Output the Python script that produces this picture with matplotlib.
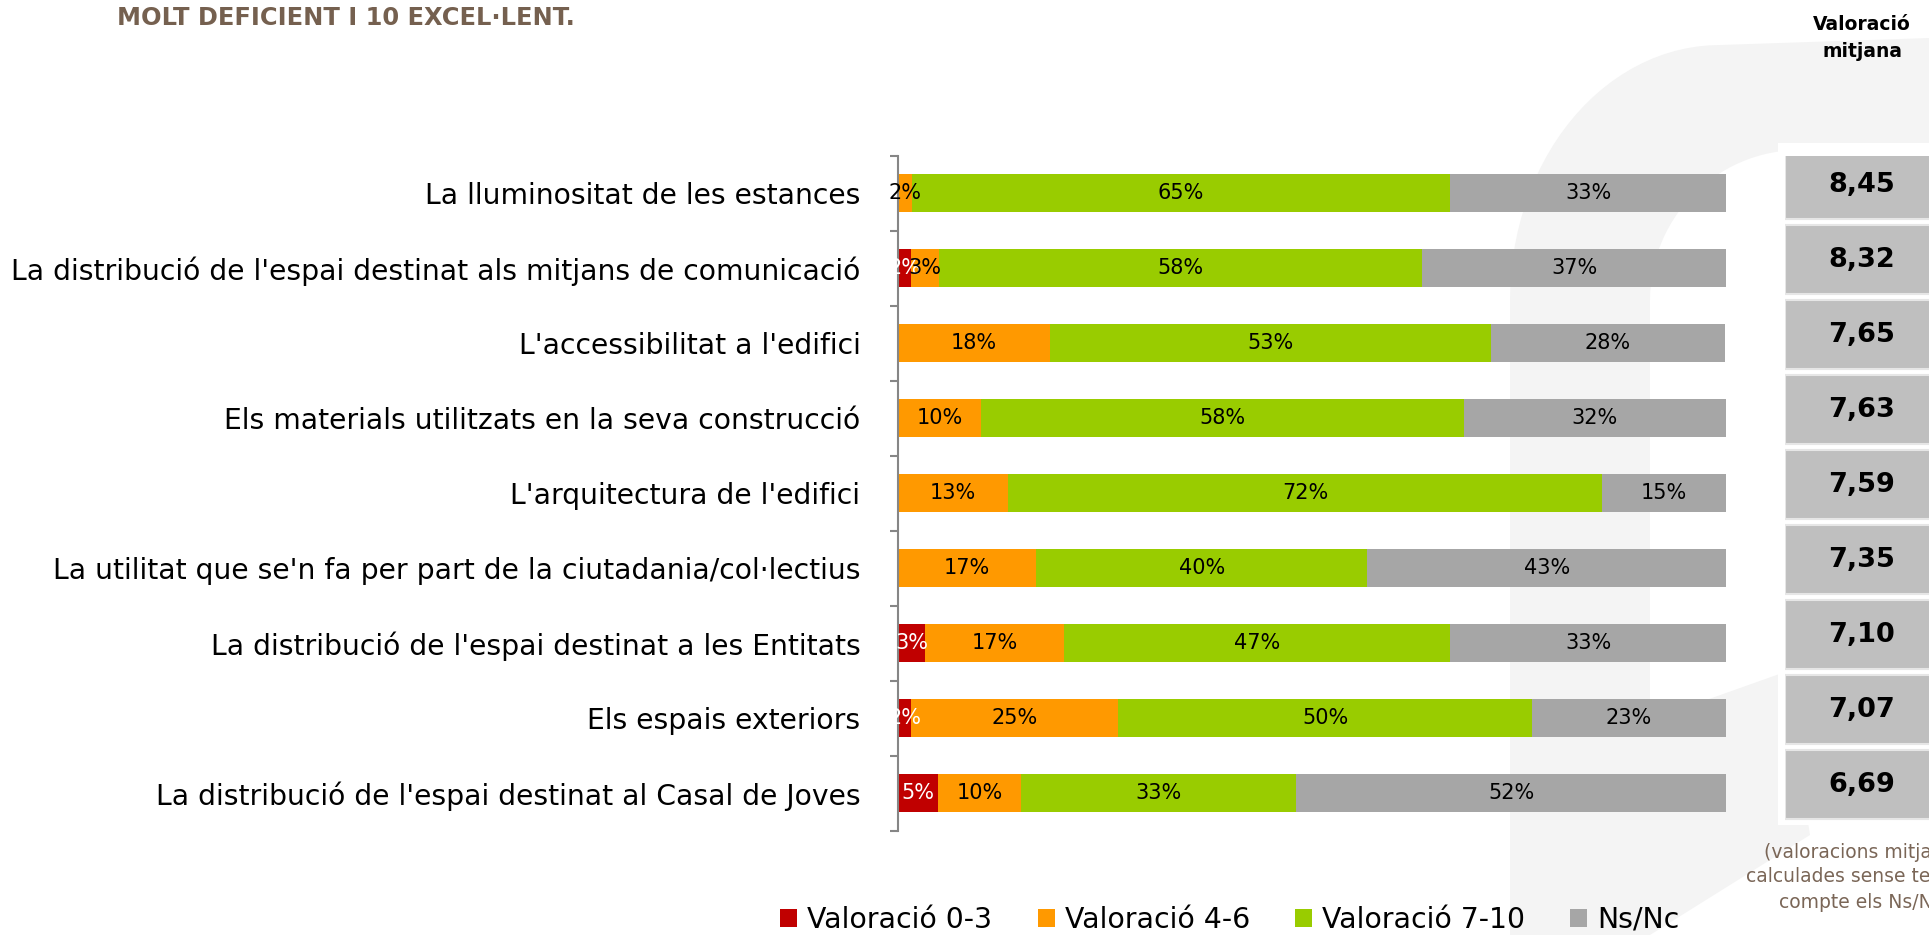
import numpy as np
import matplotlib
matplotlib.use('Agg')
import matplotlib.pyplot as plt
from matplotlib.patches import Rectangle, Polygon

categories = ["La lluminositat de les estances",
              "La distribució de l'espai destinat als mitjans de comunicació",
              "L'accessibilitat a l'edifici",
              "Els materials utilitzats en la seva construcció",
              "L'arquitectura de l'edifici",
              "La utilitat que se'n fa per part de la ciutadania/col·lectius",
              "La distribució de l'espai destinat a les Entitats",
              "Els espais exteriors",
              "La distribució de l'espai destinat al Casal de Joves"]
v03 = [0, 1.6, 0, 0, 0, 0, 3.3, 1.6, 4.8]
v46 = [1.7, 3.3, 18.3, 10.0, 13.3, 16.7, 16.7, 25.0, 10.1]
v710 = [65.0, 58.4, 53.3, 58.3, 71.7, 40.0, 46.7, 50.0, 33.2]
nsnc = [33.3, 36.7, 28.3, 31.7, 15.0, 43.3, 33.3, 23.4, 51.9]
mitjana = [8.45, 8.32, 7.65, 7.63, 7.59, 7.35, 7.10, 7.07, 6.69]
series_names = ['Valoració 0-3', 'Valoració 4-6', 'Valoració 7-10', 'Ns/Nc']
colors = ['#C00000', '#FF9900', '#99CC00', '#A6A6A6']
txt_colors = ['white', 'black', 'black', 'black']

W, H = 1929, 935
fig = plt.figure(figsize=(W / 100, H / 100), dpi=100)

# faint background watermark
bg = fig.add_axes([0, 0, 1, 1], zorder=0)
bg.set_xlim(0, W)
bg.set_ylim(H, 0)
bg.axis('off')
wm = '#F4F4F4'
t = np.linspace(0, np.pi / 2, 30)
outer = [(1510 + (1720 - 1510) * (1 - np.cos(a)), 300 - (300 - 45) * np.sin(a)) for a in t]
outer = [(1510, H)] + outer + [(W, 38), (W, 150)]
inner = [(1650 + (1800 - 1650) * (1 - np.cos(a)), 300 - (300 - 150) * np.sin(a)) for a in t]
bg.add_patch(Polygon(outer + inner[::-1] + [(1650, H)], closed=True, fc=wm, ec='none'))
bg.add_patch(Polygon([(1650, 720), (1785, 672), (1810, 835), (1650, H)], closed=True, fc=wm, ec='none'))
bg.add_patch(Rectangle((1778, 143), 200, 682, fc='white', ec='none'))

bottom = 1 - 830.5 / H
height = 675 / H
ax = fig.add_axes([898 / W, bottom, 828 / W, height], zorder=2)
ax.patch.set_alpha(0)

y = np.arange(len(categories))
series = [v03, v46, v710, nsnc]
left = np.zeros(len(categories))
for vals, col, tc, name in zip(series, colors, txt_colors, series_names):
    vals = np.array(vals)
    ax.barh(y, vals, left=left, height=0.5, color=col, label=name)
    for yi, (l, v) in enumerate(zip(left, vals)):
        if v >= 1:
            ax.text(l + v / 2, yi, '%.0f%%' % v, ha='center', va='center',
                    fontsize=15, color=tc)
    left += vals

ax.set_xlim(0, 100)
ax.set_ylim(len(categories) - 0.5, -0.5)
ax.set_yticks(y)
ax.set_yticklabels(categories, fontsize=20.3)
ax.set_yticks(np.arange(len(categories) + 1) - 0.5, minor=True)
ax.tick_params(axis='y', which='major', length=0, pad=27)
ax.tick_params(axis='y', which='minor', length=6, width=1.5, color='#868686')
ax.set_xticks([])
for s in ['top', 'right', 'bottom']:
    ax.spines[s].set_visible(False)
ax.spines['left'].set_color('#868686')
ax.spines['left'].set_linewidth(1.5)

# boxes with mean values
bx = fig.add_axes([1785 / W, bottom, 200 / W, height], zorder=2)
bx.set_xlim(0, 200)
bx.set_ylim(len(categories) - 0.5, -0.5)
bx.axis('off')
for i, m in enumerate(mitjana):
    bx.add_patch(Rectangle((0, i - 0.107 - 0.46), 200, 0.92, fc='#BFBFBF', ec='#E6E6E6', lw=1.5))
    bx.text(77, i - 0.107, ('%.2f' % m).replace('.', ','), ha='center', va='center',
            fontsize=19.5, fontweight='bold', color='black')

fig.text(1862 / W, 1 - 38 / H, 'Valoració\nmitjana', ha='center', va='center',
         fontsize=13.5, fontweight='bold', linespacing=1.5)
fig.text(1865 / W, 1 - 877 / H, '(valoracions mitjanes\ncalculades sense tenir en\ncompte els Ns/Nc)',
         ha='center', va='center', fontsize=13.5, color='#7A6657', linespacing=1.4)

fig.text(117 / W, 1 - 18 / H, 'MOLT DEFICIENT I 10 EXCEL·LENT.', ha='left', va='center',
         fontsize=17.4, fontweight='bold', color='#75604F')

handles, labels = ax.get_legend_handles_labels()
fig.legend(handles, labels, loc='center', ncol=4, bbox_to_anchor=(1230 / W, 1 - 920 / H),
           frameon=False, fontsize=20.4, handlelength=0.6, handleheight=0.6,
           handletextpad=0.35, columnspacing=1.6, borderpad=0.2)

fig.savefig('out.png', dpi=100)
